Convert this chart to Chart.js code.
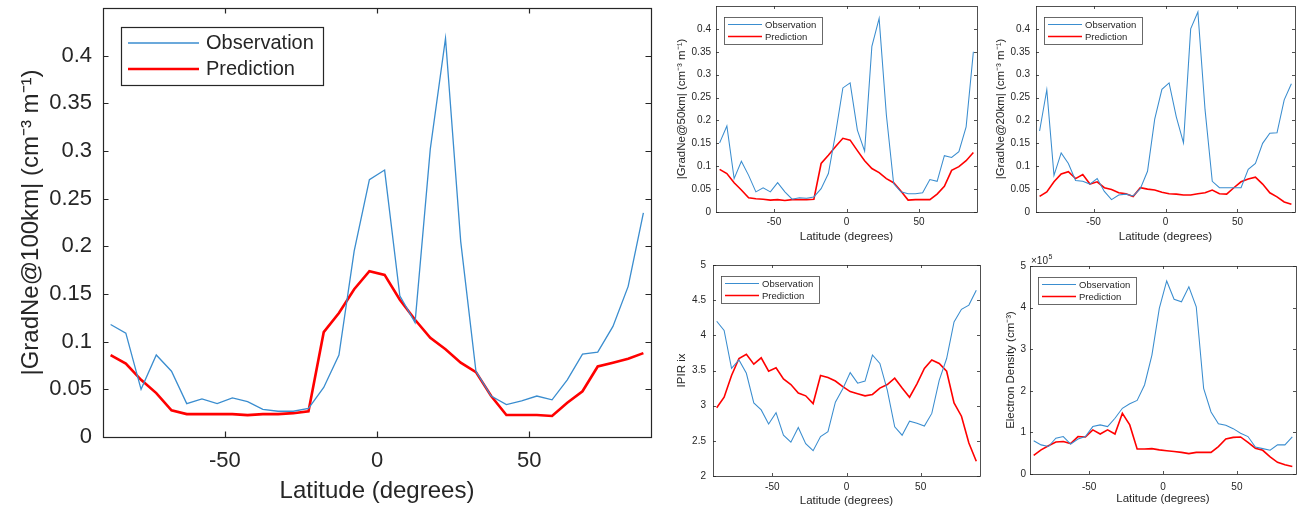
<!DOCTYPE html>
<html>
<head>
<meta charset="utf-8">
<script src="https://cdn.jsdelivr.net/npm/chart.js@4/dist/chart.umd.min.js"></script>
<style>
  html, body { margin: 0; padding: 0; background: #fff; }
  body { width: 1301px; height: 509px; position: relative; overflow: hidden; }
  canvas { position: absolute; }
</style>
</head>
<body>
<canvas id="c100" width="660" height="509" style="left:0;top:0"></canvas>
<canvas id="c50" width="320" height="250" style="left:660px;top:0"></canvas>
<canvas id="c20" width="321" height="250" style="left:980px;top:0"></canvas>
<canvas id="cIpir" width="321" height="259" style="left:660px;top:250px"></canvas>
<canvas id="cNe" width="321" height="259" style="left:980px;top:250px"></canvas>
<script>
// Latitude bins (degrees)
const LAT = [-87.5, -82.5, -77.5, -72.5, -67.5, -62.5, -57.5, -52.5, -47.5, -42.5,
             -37.5, -32.5, -27.5, -22.5, -17.5, -12.5, -7.5, -2.5, 2.5, 7.5,
             12.5, 17.5, 22.5, 27.5, 32.5, 37.5, 42.5, 47.5, 52.5, 57.5,
             62.5, 67.5, 72.5, 77.5, 82.5, 87.5];

const SERIES_NAMES = ['Observation', 'Prediction'];

// Tick values
const LAT_TICKS  = [-50, 0, 50];
const GRAD_TICKS = [0, 0.05, 0.1, 0.15, 0.2, 0.25, 0.3, 0.35, 0.4];
const IPIR_TICKS = [2, 2.5, 3, 3.5, 4, 4.5, 5];
const NE_TICKS   = [0, 1, 2, 3, 4, 5];

// |GradNe| at 100 km baseline (cm^-3 m^-1)
const obs100 = [0.118, 0.109, 0.050, 0.086, 0.069, 0.035, 0.040, 0.035, 0.041, 0.037,
                0.029, 0.027, 0.027, 0.030, 0.052, 0.086, 0.195, 0.270, 0.280, 0.148,
                0.120, 0.302, 0.418, 0.205, 0.069, 0.043, 0.034, 0.038, 0.043, 0.039,
                0.060, 0.087, 0.089, 0.116, 0.158, 0.235];
const pred100 = [0.086, 0.077, 0.060, 0.046, 0.028, 0.024, 0.024, 0.024, 0.024, 0.023,
                 0.024, 0.024, 0.025, 0.027, 0.110, 0.130, 0.155, 0.174, 0.170, 0.144,
                 0.123, 0.104, 0.092, 0.078, 0.068, 0.043, 0.023, 0.023, 0.023, 0.022,
                 0.036, 0.048, 0.074, 0.078, 0.082, 0.088];

// |GradNe| at 50 km baseline
const obs50 = [0.151, 0.188, 0.073, 0.111, 0.080, 0.044, 0.053, 0.044, 0.064, 0.044,
               0.028, 0.031, 0.030, 0.033, 0.051, 0.084, 0.172, 0.271, 0.282, 0.179,
               0.133, 0.362, 0.423, 0.212, 0.062, 0.044, 0.040, 0.040, 0.042, 0.071,
               0.067, 0.123, 0.119, 0.132, 0.186, 0.350];
const pred50 = [0.093, 0.084, 0.064, 0.048, 0.031, 0.029, 0.028, 0.026, 0.027, 0.025,
                0.027, 0.027, 0.027, 0.028, 0.106, 0.124, 0.143, 0.161, 0.157, 0.134,
                0.112, 0.095, 0.086, 0.073, 0.064, 0.046, 0.026, 0.027, 0.027, 0.027,
                0.039, 0.056, 0.091, 0.099, 0.112, 0.130];

// |GradNe| at 20 km baseline
const obs20 = [0.177, 0.267, 0.080, 0.129, 0.106, 0.069, 0.067, 0.061, 0.073, 0.045,
               0.027, 0.037, 0.039, 0.035, 0.051, 0.089, 0.203, 0.268, 0.282, 0.208,
               0.151, 0.400, 0.437, 0.223, 0.067, 0.053, 0.053, 0.053, 0.053, 0.093,
               0.106, 0.150, 0.172, 0.173, 0.245, 0.280];
const pred20 = [0.034, 0.044, 0.066, 0.083, 0.088, 0.073, 0.082, 0.061, 0.066, 0.053,
                0.049, 0.042, 0.040, 0.034, 0.053, 0.050, 0.048, 0.043, 0.040, 0.039,
                0.037, 0.037, 0.040, 0.042, 0.048, 0.040, 0.039, 0.053, 0.066, 0.072,
                0.076, 0.061, 0.042, 0.033, 0.022, 0.017];

// IPIR index
const obsIpir = [4.20, 4.07, 3.53, 3.65, 3.46, 3.04, 2.94, 2.74, 2.90, 2.58,
                 2.48, 2.69, 2.46, 2.36, 2.56, 2.63, 3.05, 3.24, 3.47, 3.32,
                 3.35, 3.72, 3.60, 3.22, 2.70, 2.58, 2.78, 2.75, 2.71, 2.89,
                 3.36, 3.67, 4.19, 4.37, 4.43, 4.64];
const predIpir = [2.97, 3.12, 3.43, 3.67, 3.73, 3.59, 3.68, 3.49, 3.54, 3.38,
                  3.30, 3.18, 3.14, 3.03, 3.43, 3.40, 3.35, 3.27, 3.20, 3.17,
                  3.14, 3.16, 3.25, 3.30, 3.39, 3.25, 3.12, 3.31, 3.53, 3.65,
                  3.60, 3.49, 3.04, 2.85, 2.47, 2.21];

// Electron density, in units of 1e5 cm^-3
const obsNe = [0.80, 0.70, 0.66, 0.86, 0.90, 0.72, 0.84, 0.90, 1.14, 1.18,
               1.14, 1.34, 1.58, 1.69, 1.77, 2.14, 2.86, 3.98, 4.64, 4.20,
               4.14, 4.50, 4.02, 2.06, 1.49, 1.21, 1.17, 1.09, 0.98, 0.90,
               0.65, 0.61, 0.57, 0.70, 0.70, 0.89];
const predNe = [0.45, 0.58, 0.68, 0.77, 0.78, 0.73, 0.90, 0.89, 1.06, 0.96,
                1.06, 0.96, 1.46, 1.18, 0.60, 0.60, 0.61, 0.58, 0.56, 0.54,
                0.52, 0.49, 0.52, 0.52, 0.52, 0.66, 0.84, 0.88, 0.89, 0.76,
                0.62, 0.57, 0.41, 0.28, 0.22, 0.18];

const FONT = "'Liberation Sans', Arial, Helvetica, sans-serif";
const INK = '#262626';
const BLUE = '#3a8dcf';
const RED = '#ff0000';

const fmt = v => String(Math.round(v * 1000) / 1000);

// Boxed axes with inward tick marks on all four sides
const framePlugin = {
  id: 'matFrame',
  afterDatasetsDraw(chart, args, o) {
    const { ctx, chartArea: a, scales: { x, y } } = chart;
    ctx.save();
    ctx.strokeStyle = o.color;
    ctx.lineWidth = o.width;
    ctx.beginPath();
    x.ticks.forEach(t => {
      const px = Math.round(x.getPixelForValue(t.value)) + 0.5;
      ctx.moveTo(px, a.bottom); ctx.lineTo(px, a.bottom - o.len);
      ctx.moveTo(px, a.top); ctx.lineTo(px, a.top + o.len);
    });
    y.ticks.forEach(t => {
      const py = Math.round(y.getPixelForValue(t.value)) + 0.5;
      ctx.moveTo(a.left, py); ctx.lineTo(a.left + o.len, py);
      ctx.moveTo(a.right, py); ctx.lineTo(a.right - o.len, py);
    });
    ctx.stroke();
    ctx.strokeRect(Math.round(a.left) + 0.5, Math.round(a.top) + 0.5,
                   Math.round(a.width), Math.round(a.height));
    if (o.exponent) {
      ctx.fillStyle = INK;
      ctx.textBaseline = 'alphabetic';
      ctx.font = `${o.expSize}px ${FONT}`;
      const base = '\u00d710';
      ctx.fillText(base, a.left + 1, a.top - 2);
      const w = ctx.measureText(base).width;
      ctx.font = `${Math.round(o.expSize * 0.72)}px ${FONT}`;
      ctx.fillText(String(o.exponent), a.left + 1 + w + 0.5, a.top - 7);
    }
    ctx.restore();
  }
};

// Boxed legend inside the top-left corner of the plot area
const legendPlugin = {
  id: 'matLegend',
  afterDraw(chart, args, o) {
    const { ctx, chartArea: a } = chart;
    const bx = Math.round(a.left + o.x), by = Math.round(a.top + o.y);
    ctx.save();
    ctx.fillStyle = '#fff';
    ctx.fillRect(bx, by, o.w, o.h);
    ctx.strokeStyle = o.edge;
    ctx.lineWidth = o.edgeWidth;
    ctx.strokeRect(bx + 0.5, by + 0.5, o.w, o.h);
    ctx.font = `${o.size}px ${FONT}`;
    ctx.textBaseline = 'middle';
    chart.data.datasets.forEach((ds, i) => {
      const yy = by + o.rows[i];
      ctx.strokeStyle = ds.borderColor;
      ctx.lineWidth = ds.borderWidth;
      ctx.beginPath();
      ctx.moveTo(bx + o.l0, yy);
      ctx.lineTo(bx + o.l1, yy);
      ctx.stroke();
      ctx.fillStyle = INK;
      ctx.fillText(ds.label, bx + o.tx, yy + 0.5);
    });
    ctx.restore();
  }
};

function makePanel(id, c) {
  const tickFont = { family: FONT, size: c.tickSize };
  const titleFont = { family: FONT, size: c.titleSize };
  return new Chart(document.getElementById(id), {
    type: 'line',
    data: {
      datasets: [
        { label: SERIES_NAMES[0], data: LAT.map((x, i) => ({ x, y: c.obs[i] })),
          borderColor: BLUE, borderWidth: c.obsWidth, pointRadius: 0, tension: 0 },
        { label: SERIES_NAMES[1], data: LAT.map((x, i) => ({ x, y: c.pred[i] })),
          borderColor: RED, borderWidth: c.predWidth, pointRadius: 0, tension: 0 }
      ]
    },
    options: {
      responsive: false,
      animation: false,
      events: [],
      layout: { padding: { left: 0, top: c.padTop, right: c.padRight, bottom: 0 } },
      plugins: {
        legend: { display: false },
        tooltip: { enabled: false },
        matFrame: { color: INK, width: c.frameWidth, len: c.tickLen,
                    exponent: c.exponent, expSize: c.tickSize },
        matLegend: c.legend
      },
      scales: {
        x: {
          type: 'linear', min: -90, max: 90,
          afterBuildTicks: s => { s.ticks = LAT_TICKS.map(v => ({ value: v })); },
          afterFit: s => { s.height = c.xH; s.paddingLeft = 0; s.paddingRight = 0; },
          grid: { display: false, drawTicks: false },
          border: { display: false },
          ticks: { font: tickFont, color: INK, padding: c.xTickPad, maxRotation: 0,
                   autoSkip: false, callback: v => fmt(v) },
          title: { display: true, text: 'Latitude (degrees)', font: titleFont, color: INK,
                   padding: { top: 0, bottom: c.xTitlePad } }
        },
        y: {
          type: 'linear', min: c.yMin, max: c.yMax,
          afterBuildTicks: s => { s.ticks = c.yTicks.map(v => ({ value: v })); },
          afterFit: s => { s.width = c.yW; s.paddingTop = 0; s.paddingBottom = 0; },
          grid: { display: false, drawTicks: false },
          border: { display: false },
          ticks: { font: tickFont, color: INK, padding: c.yTickPad, autoSkip: false,
                   callback: v => fmt(v) },
          title: { display: true, text: c.yTitle, font: titleFont, color: INK,
                   padding: { top: c.yTitlePad, bottom: 0 } }
        }
      }
    },
    plugins: [framePlugin, legendPlugin]
  });
}

const bigLegend = { x: 18, y: 19, w: 202, h: 58, rows: [16, 42], l0: 7, l1: 78, tx: 85,
                    size: 20, edge: INK, edgeWidth: 1.2 };
const smallLegend = { x: 8, y: 11, w: 98, h: 27, rows: [7.5, 19.5], l0: 4, l1: 38, tx: 41,
                      size: 9.5, edge: '#444', edgeWidth: 0.8 };

makePanel('c100', {
  obs: obs100, pred: pred100, yMin: 0, yMax: 0.45, yTicks: GRAD_TICKS,
  yTitle: '|GradNe@100km| (cm\u207b\u00b3 m\u207b\u00b9)',
  padTop: 8, padRight: 9, yW: 103, xH: 72,
  tickSize: 22, titleSize: 24, xTickPad: 11, yTickPad: 11, xTitlePad: 3.6, yTitlePad: 16.6,
  obsWidth: 1.3, predWidth: 2.6, frameWidth: 1.2, tickLen: 5.5, legend: bigLegend
});

const small = {
  tickSize: 10, titleSize: 11.5, obsWidth: 1.05, predWidth: 1.6, frameWidth: 0.8, tickLen: 3,
  legend: smallLegend
};

makePanel('c50', Object.assign({}, small, {
  obs: obs50, pred: pred50, yMin: 0, yMax: 0.45, yTicks: GRAD_TICKS,
  yTitle: '|GradNe@50km| (cm\u207b\u00b3 m\u207b\u00b9)',
  padTop: 6, padRight: 3, yW: 56, xH: 38,
  xTickPad: 4, yTickPad: 5, xTitlePad: 5.8, yTitlePad: 14.8
}));

makePanel('c20', Object.assign({}, small, {
  obs: obs20, pred: pred20, yMin: 0, yMax: 0.45, yTicks: GRAD_TICKS,
  yTitle: '|GradNe@20km| (cm\u207b\u00b3 m\u207b\u00b9)',
  padTop: 6, padRight: 6, yW: 56, xH: 38,
  xTickPad: 4, yTickPad: 6, xTitlePad: 5.8, yTitlePad: 13.8
}));

makePanel('cIpir', Object.assign({}, small, {
  obs: obsIpir, pred: predIpir, yMin: 2, yMax: 5, yTicks: IPIR_TICKS,
  yTitle: 'IPIR ix',
  padTop: 15, padRight: 1, yW: 53, xH: 33,
  xTickPad: 5, yTickPad: 7, xTitlePad: 1.4, yTitlePad: 14.8
}));

makePanel('cNe', Object.assign({}, small, {
  obs: obsNe, pred: predNe, yMin: 0, yMax: 5, yTicks: NE_TICKS,
  yTitle: 'Electron Density (cm\u207b\u00b3)',
  padTop: 16, padRight: 5, yW: 50, xH: 35,
  xTickPad: 7, yTickPad: 4, xTitlePad: 2.8, yTitlePad: 23.5, exponent: 5
}));
</script>
</body>
</html>
